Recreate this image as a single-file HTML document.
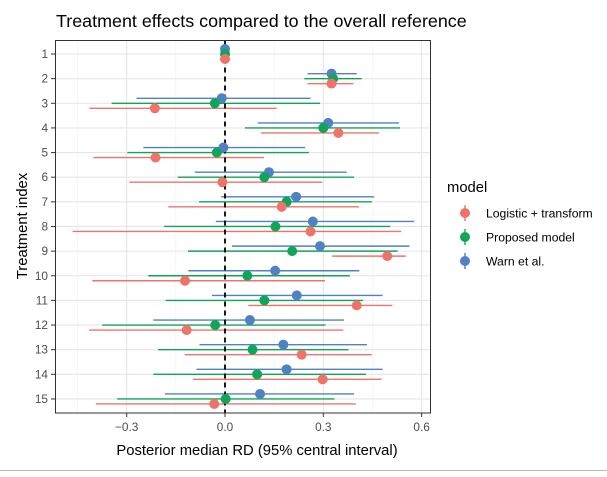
<!DOCTYPE html>
<html><head><meta charset="utf-8"><style>
body{margin:0;background:#fff;}
svg text{font-family:"Liberation Sans",Arial,sans-serif;}
</style></head><body>
<svg id="chart" width="607" height="472" viewBox="0 0 607 472" xmlns="http://www.w3.org/2000/svg">
<rect x="0" y="0" width="607" height="472" fill="#fff"/>
<line x1="0" y1="470.5" x2="607" y2="470.5" stroke="#bbb" stroke-width="1"/>
<text x="56" y="27" font-size="17.9" fill="#000">Treatment effects compared to the overall reference</text>
<g id="grid"></g>
<g id="marks"></g>
<rect x="55.5" y="40.5" width="375" height="372.5" fill="none" stroke="#333" stroke-width="1"/>
<g id="axes"></g>
<text x="257" y="455" font-size="14.8" text-anchor="middle" fill="#000">Posterior median RD (95% central interval)</text>
<text transform="translate(27,226) rotate(-90)" font-size="14.8" text-anchor="middle" fill="#000">Treatment index</text>
<g id="legend">
<text x="447" y="192" font-size="14.8" fill="#000">model</text>
</g>
</svg>
<script>
const treatments = [1,2,3,4,5,6,7,8,9,10,11,12,13,14,15];
const seriesNames = ["Warn et al.","Proposed model","Logistic + transform"];
const warnMed = [0,0.325,-0.01,0.315,-0.005,0.134,0.217,0.268,0.29,0.153,0.219,0.076,0.178,0.188,0.107];
const warnLo  = [0,0.252,-0.27,0.1,-0.249,-0.092,-0.012,-0.028,0.021,-0.112,-0.04,-0.219,-0.078,-0.087,-0.183];
const warnHi  = [0,0.402,0.261,0.531,0.244,0.371,0.455,0.577,0.563,0.41,0.481,0.363,0.433,0.481,0.394];
const propMed = [0,0.33,-0.031,0.30,-0.025,0.12,0.188,0.154,0.205,0.068,0.12,-0.03,0.084,0.098,0.002];
const propLo  = [0,0.242,-0.346,0.061,-0.298,-0.144,-0.079,-0.186,-0.113,-0.234,-0.181,-0.375,-0.204,-0.219,-0.329];
const propHi  = [0,0.417,0.29,0.534,0.256,0.394,0.448,0.504,0.527,0.381,0.421,0.307,0.377,0.43,0.334];
const logMed  = [0,0.325,-0.214,0.346,-0.212,-0.008,0.173,0.261,0.495,-0.122,0.402,-0.117,0.234,0.298,-0.033];
const logLo   = [0,0.252,-0.414,0.11,-0.402,-0.292,-0.173,-0.465,0.327,-0.405,0.071,-0.415,-0.123,-0.098,-0.394];
const logHi   = [0,0.392,0.158,0.47,0.119,0.297,0.409,0.538,0.552,0.305,0.511,0.361,0.448,0.478,0.399];
const xTicks = [-0.3,0,0.3,0.6];
const xTickLabels = ["\u22120.3","0.0","0.3","0.6"];
const xMinor = [-0.45,-0.15,0.15,0.45];

const NS="http://www.w3.org/2000/svg";
const X0=225, XS=327.7;
function xs(v){return X0+v*XS;}
function ys(i){return 54+(i-1)*24.64;}
function mk(tag,attrs,parent){const e=document.createElementNS(NS,tag);for(const k in attrs)e.setAttribute(k,attrs[k]);parent.appendChild(e);return e;}
const grid=document.getElementById('grid'), marks=document.getElementById('marks'), axes=document.getElementById('axes');
mk('rect',{x:55.5,y:40.5,width:375,height:372.5,fill:'#fff'},grid);
xMinor.forEach(v=>{const l=mk('line',{x1:xs(v),x2:xs(v),y1:40.5,y2:413,stroke:'#f0f0f0','stroke-width':0.6},grid);

});
xTicks.forEach((v,i)=>{const l=mk('line',{x1:xs(v),x2:xs(v),y1:40.5,y2:413,stroke:'#e6e6e6','stroke-width':1.1},grid);


const t=mk('line',{x1:xs(v),x2:xs(v),y1:413,y2:417,stroke:'#333','stroke-width':1},axes);


const tx=mk('text',{x:xs(v),y:431,'font-size':11.8,fill:'#4d4d4d','text-anchor':'middle'},axes);tx.textContent=xTickLabels[i];

});
treatments.forEach(tr=>{const y=ys(tr);
const l=mk('line',{x1:55.5,x2:430.5,y1:y,y2:y,stroke:'#e6e6e6','stroke-width':1.1},grid);


const t=mk('line',{x1:51,x2:55.5,y1:y,y2:y,stroke:'#333','stroke-width':1},axes);


const tx=mk('text',{x:48,y:y+4,'font-size':11.8,fill:'#4d4d4d','text-anchor':'end'},axes);tx.textContent=tr;

});
const series=[
 {name:'warn',col:'#5081c0',med:warnMed,lo:warnLo,hi:warnHi,dy:-5},
 {name:'proposed',col:'#0fa65a',med:propMed,lo:propLo,hi:propHi,dy:0},
 {name:'logistic',col:'#f0736b',med:logMed,lo:logLo,hi:logHi,dy:5}];
series.forEach(s=>{treatments.forEach((tr,i)=>{const y=ys(tr)+s.dy;
const l=mk('line',{x1:xs(s.lo[i]),x2:xs(s.hi[i]),y1:y,y2:y,stroke:s.col,'stroke-width':1.4},marks);

});});
const ref=mk('line',{x1:X0,x2:X0,y1:40.5,y2:413,stroke:'#000','stroke-width':1.8,'stroke-dasharray':'5,4'},marks);


series.forEach(s=>{treatments.forEach((tr,i)=>{const y=ys(tr)+s.dy;
const c=mk('circle',{cx:xs(s.med[i]),cy:y,r:5,fill:s.col},marks);

});});
const leg=document.getElementById('legend');
const legItems=[['Logistic + transform','#f0736b'],['Proposed model','#0fa65a'],['Warn et al.','#5081c0']];
legItems.forEach((it,i)=>{const y=213+i*24;
const g=mk('g',{},leg);


mk('line',{x1:465,x2:465,y1:y-8,y2:y+8,stroke:it[1],'stroke-width':1.4},g);
mk('circle',{cx:465,cy:y,r:5,fill:it[1]},g);
const t=mk('text',{x:486,y:y+4.5,'font-size':12.2,fill:'#000'},g);t.textContent=it[0];});
</script>
</body></html>
